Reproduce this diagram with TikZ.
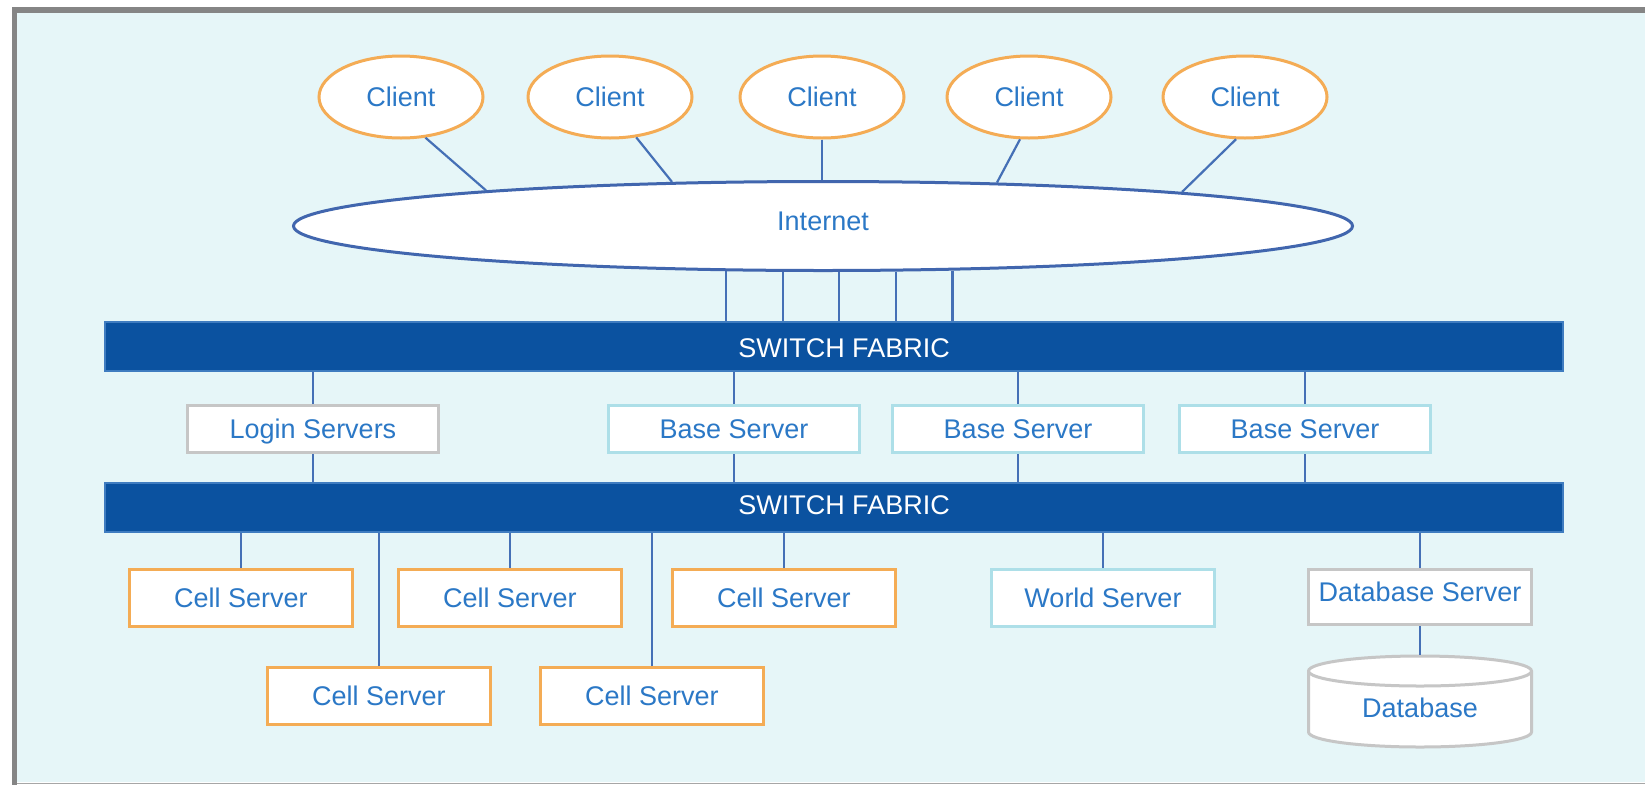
\documentclass[tikz,border=0pt]{standalone}
\usepackage{fontspec}
\setmainfont{Liberation Sans}
\usetikzlibrary{shapes.geometric}

\definecolor{panel}{HTML}{E6F6F8}
\definecolor{framegray}{HTML}{858585}
\definecolor{wireblue}{HTML}{4570B6}
\definecolor{netblue}{HTML}{4166AE}
\definecolor{txtblue}{HTML}{2B78C6}
\definecolor{fabricblue}{HTML}{0B52A0}
\definecolor{fabricedge}{HTML}{3F7CC0}
\definecolor{orangeline}{HTML}{F4AC55}
\definecolor{cyanline}{HTML}{ADDFE8}
\definecolor{grayline}{HTML}{C6C6C6}

\begin{document}
\begin{tikzpicture}[x=1pt,y=-1pt,
  every node/.style={font=\fontsize{27}{32}\selectfont, text=txtblue, inner sep=0pt},
  client/.style={ellipse, draw=orangeline, line width=3pt, fill=white,
    minimum width=164, minimum height=82},
  cloud/.style={ellipse, draw=netblue, line width=3pt, fill=white,
    minimum width=1059, minimum height=89, text height=19.5pt, text depth=10pt},
  fabricbar/.style={rectangle, fill=fabricblue, draw=fabricedge, line width=2pt,
    minimum width=1458, minimum height=49},
  fabrictext/.style={text=white, text height=19.5pt, text depth=0pt},
  box/.style={rectangle, fill=white, line width=3pt, text height=19.5pt, text depth=0pt},
  midbox/.style={box, minimum width=251, minimum height=47},
  lowbox/.style={box, minimum width=223, minimum height=57},
  cellbox/.style={lowbox, draw=orangeline},
  link/.style={draw=wireblue, line width=2.2pt},
]
\useasboundingbox (0,0) rectangle (1645,785);

% panel and frame
\fill[white] (0,0) rectangle (1645,785);
\fill[panel] (17,13) rectangle (1645,782);
\draw[framegray, line width=6pt] (12,10) -- (1645,10);
\draw[framegray, line width=5pt] (14.5,7) -- (14.5,785);
\draw[gray!70, line width=1.5pt] (17,783.5) -- (1645,783.5);

% clients and internet cloud
\node[client] (c1) at (401,97) {Client};
\node[client] (c2) at (610,97) {Client};
\node[client] (c3) at (822,97) {Client};
\node[client] (c4) at (1029,97) {Client};
\node[client] (c5) at (1245,97) {Client};
\node[cloud] (inet) at (823,226) {Internet};

% attachment points on the upper rim of the cloud
\coordinate (i1) at (486,190.4);
\coordinate (i2) at (672,181.9);
\coordinate (i4) at (997,182.5);
\coordinate (i5) at (1182,192);

\draw[link] (c1.-59) -- (i1);
\draw[link] (c2.-57) -- (i2);
\draw[link] (c3.south) -- (c3.south |- inet.north);
\draw[link] (c4.-102) -- (i4);
\draw[link] (c5.-102) -- (i5);

% switch fabrics
\node[fabricbar] (sf1) at (834,346.5) {};
\node[fabrictext] (sf1t) at (844,348) {SWITCH FABRIC};
\node[fabricbar] (sf2) at (834,507) {};
\node[fabrictext] (sf2t) at (844,505) {SWITCH FABRIC};

\foreach \a in {205.5,229.6,289.2,328.4,341.2}
  \draw[link] (inet.\a) -- (inet.\a |- sf1.north);

% login and base servers
\node[midbox, draw=grayline] (login) at (313,429) {Login Servers};
\node[midbox, draw=cyanline] (base1) at (734,429) {Base Server};
\node[midbox, draw=cyanline] (base2) at (1018,429) {Base Server};
\node[midbox, draw=cyanline] (base3) at (1305,429) {Base Server};

\foreach \n in {login,base1,base2,base3}{
  \draw[link] (\n.north) -- (\n.north |- sf1.south);
  \draw[link] (\n.south) -- (\n.south |- sf2.north);
}

% cell, world and database servers
\node[cellbox] (cell1) at (241,598) {Cell Server};
\node[cellbox] (cell2) at (510,598) {Cell Server};
\node[cellbox] (cell3) at (784,598) {Cell Server};
\node[cellbox] (cell4) at (379,696) {Cell Server};
\node[cellbox] (cell5) at (652,696) {Cell Server};
\node[lowbox, draw=cyanline] (world) at (1103,598) {World Server};
\node[lowbox, draw=grayline, minimum height=55, text depth=10pt] (dbs) at (1420,597) {Database Server};

\foreach \n in {cell1,cell2,cell3,cell4,cell5,world,dbs}
  \draw[link] (\n.north) -- (\n.north |- sf2.south);

% database cylinder
\filldraw[fill=white, draw=grayline, line width=3pt]
  (1308.5,671) -- (1308.5,732)
  .. controls (1308.5,740.3) and (1358.4,747) .. (1420,747)
  .. controls (1481.6,747) and (1531.5,740.3) .. (1531.5,732)
  -- (1531.5,671)
  .. controls (1531.5,662.7) and (1481.6,656) .. (1420,656)
  .. controls (1358.4,656) and (1308.5,662.7) .. (1308.5,671) -- cycle;
\draw[grayline, line width=3pt]
  (1308.5,671) .. controls (1308.5,679.3) and (1358.4,686) .. (1420,686)
  .. controls (1481.6,686) and (1531.5,679.3) .. (1531.5,671);
\node[text height=19.5pt, text depth=0pt] (db) at (1420,708) {Database};
\coordinate (dbtop) at (1420,654.5);
\draw[link] (dbs.south) -- (dbtop);
\end{tikzpicture}
\end{document}
